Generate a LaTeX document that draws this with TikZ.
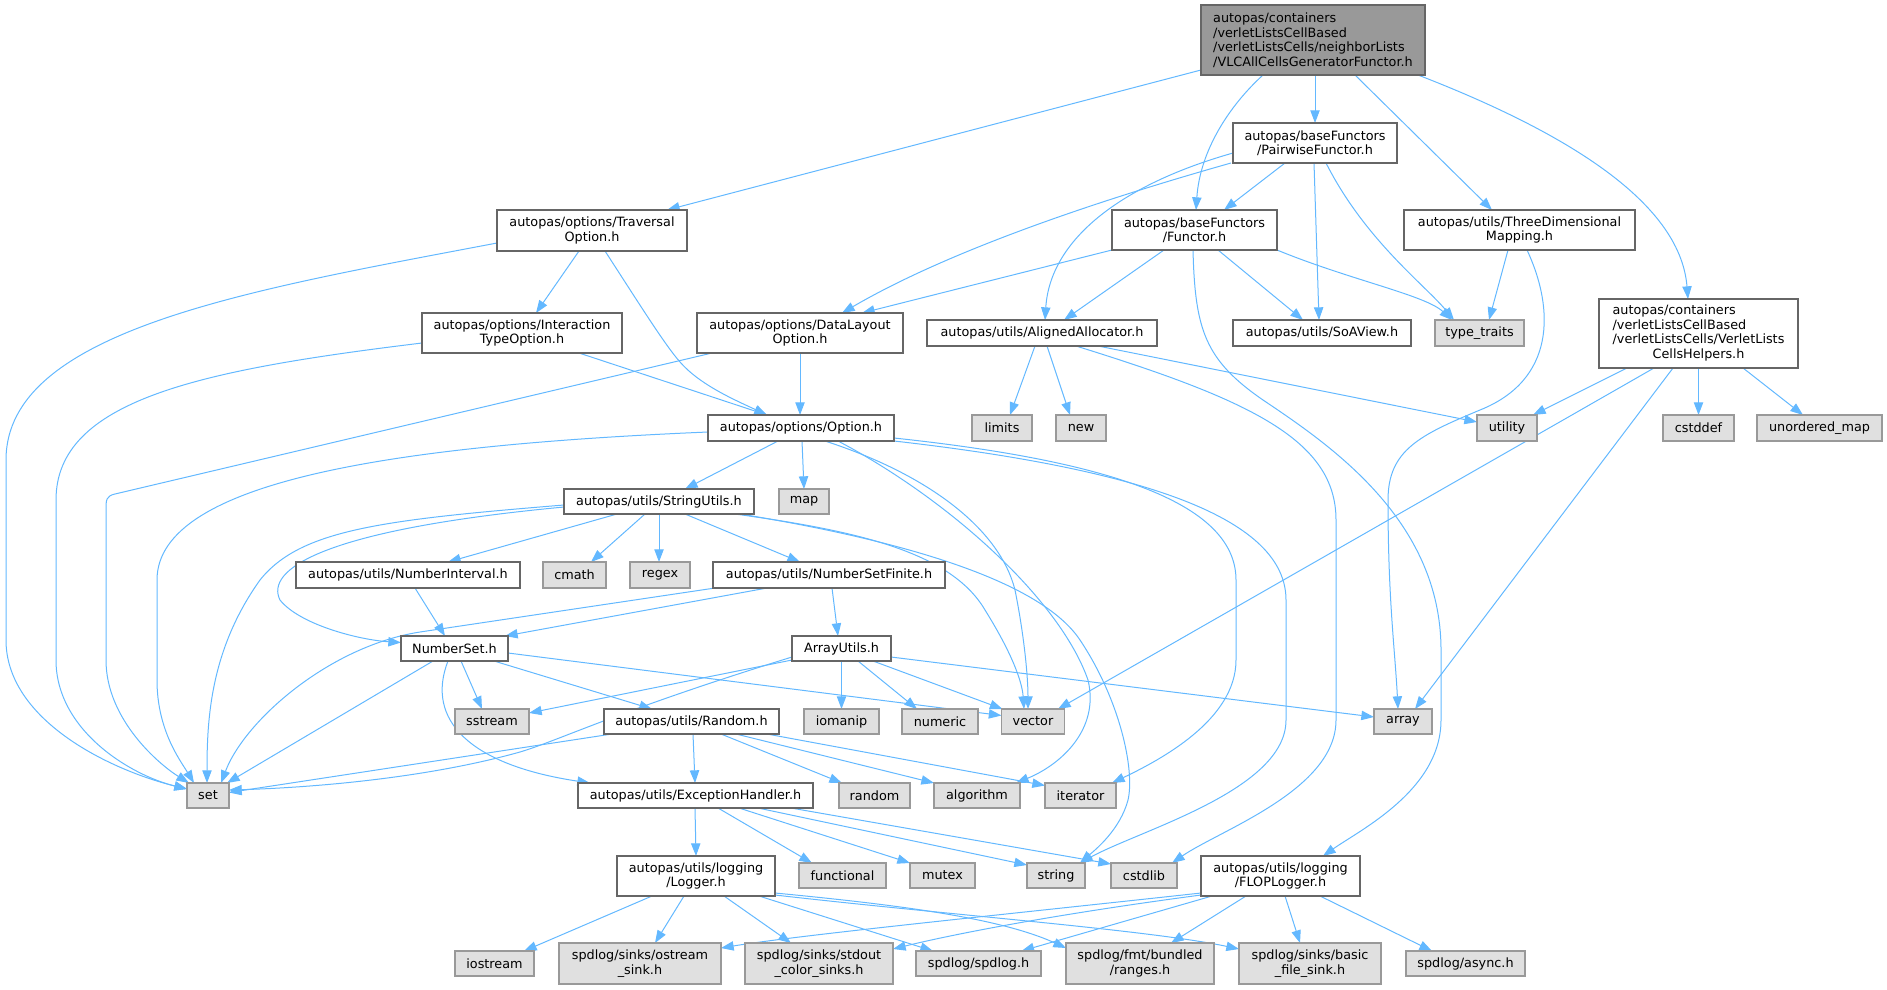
\documentclass[tikz,border=0pt]{standalone}
\usepackage{fontspec}
\setmainfont{DejaVu Sans}
\usetikzlibrary{arrows.meta,calc}
\definecolor{edgec}{HTML}{63B8FF}
\definecolor{bordw}{HTML}{666666}
\definecolor{bordg}{HTML}{999999}
\definecolor{fillg}{HTML}{E0E0E0}
\definecolor{fillr}{HTML}{999999}
\pgfdeclarelayer{bg}
\pgfsetlayers{bg,main}
\begin{document}
\begin{tikzpicture}[x=0.75pt,y=-0.75pt,
  nbase/.style={inner sep=0pt, outer sep=0pt, line width=0.9pt, font=\fontsize{9.6}{10.9}\selectfont, text=black},
  wbox/.style={nbase, draw=bordw, fill=white, align=center},
  gbox/.style={nbase, draw=bordg, fill=fillg, align=center},
  rbox/.style={nbase, draw=bordw, fill=fillr, align=left},
  sz/.style 2 args={minimum width=#1*0.75pt, minimum height=#2*0.75pt},
  dep/.style={draw=edgec, line width=0.75pt, -{Triangle[length=9.5pt,width=7pt]}}]
\useasboundingbox (0,0) rectangle (1887,989);

% nodes
\node[rbox, sz={224}{70}] (root) at (1313,40) {autopas/containers\\/verletListsCellBased\\/verletListsCells/neighborLists\\/VLCAllCellsGeneratorFunctor.h};
\node[wbox, sz={164}{40}] (pair) at (1315,143) {autopas/baseFunctors\\/PairwiseFunctor.h};
\node[wbox, sz={190}{41}] (trav) at (592,230.5) {autopas/options/Traversal\\Option.h};
\node[wbox, sz={165}{40}] (func) at (1194.5,230) {autopas/baseFunctors\\/Functor.h};
\node[wbox, sz={231}{40}] (three) at (1519.5,230) {autopas/utils/ThreeDimensional\\Mapping.h};
\node[wbox, sz={200}{40}] (inter) at (522,333) {autopas/options/Interaction\\TypeOption.h};
\node[wbox, sz={206}{40}] (datal) at (800,333) {autopas/options/DataLayout\\Option.h};
\node[wbox, sz={230}{26}] (align) at (1042,333) {autopas/utils/AlignedAllocator.h};
\node[wbox, sz={178}{26}] (soa) at (1322,333) {autopas/utils/SoAView.h};
\node[gbox, sz={89}{26}] (tt) at (1479.5,333) {type\_traits};
\node[wbox, sz={199}{69}] (helpers) at (1698.5,333.5) {\begin{tabular}{@{}l@{}}autopas/containers\\/verletListsCellBased\\/verletListsCells/VerletLists\\\multicolumn{1}{@{}c@{}}{CellsHelpers.h}\end{tabular}};
\node[gbox, sz={60}{26}] (limits) at (1002,428) {limits};
\node[gbox, sz={50}{26}] (new) at (1081,428) {new};
\node[gbox, sz={60}{26}] (utility) at (1507,428) {utility};
\node[gbox, sz={71}{26}] (cstddef) at (1698.5,428) {cstddef};
\node[gbox, sz={125}{26}] (umap) at (1819.5,428) {unordered\_map};
\node[wbox, sz={186}{26}] (option) at (801,428) {autopas/options/Option.h};
\node[wbox, sz={190}{25}] (strutil) at (659,501.5) {autopas/utils/StringUtils.h};
\node[gbox, sz={50}{25}] (map) at (804,501.5) {map};
\node[wbox, sz={224}{26}] (numint) at (408,575) {autopas/utils/NumberInterval.h};
\node[gbox, sz={63}{26}] (cmath) at (574.5,575) {cmath};
\node[gbox, sz={60}{26}] (regex) at (660,575) {regex};
\node[wbox, sz={232}{26}] (numfin) at (829,575) {autopas/utils/NumberSetFinite.h};
\node[wbox, sz={107}{25}] (numset) at (454.5,648.5) {NumberSet.h};
\node[wbox, sz={99}{25}] (arrutil) at (841.5,648.5) {ArrayUtils.h};
\node[gbox, sz={74}{25}] (sstream) at (492,721.5) {sstream};
\node[wbox, sz={175}{25}] (rnd) at (691.5,721.5) {autopas/utils/Random.h};
\node[gbox, sz={75}{25}] (iomanip) at (841.5,721.5) {iomanip};
\node[gbox, sz={76}{25}] (numeric) at (940,721.5) {numeric};
\node[gbox, sz={63}{25}] (vector) at (1033,721.5) {vector};
\node[gbox, sz={58}{25}] (array) at (1403,721.5) {array};
\node[gbox, sz={42}{25}] (set) at (208,795.5) {set};
\node[wbox, sz={235}{25}] (exc) at (695.5,795.5) {autopas/utils/ExceptionHandler.h};
\node[gbox, sz={71}{25}] (randstd) at (874.5,795.5) {random};
\node[gbox, sz={86}{25}] (algo) at (977,795.5) {algorithm};
\node[gbox, sz={71}{25}] (iter) at (1080.5,795.5) {iterator};
\node[wbox, sz={158}{40}] (logger) at (696,876) {autopas/utils/logging\\/Logger.h};
\node[gbox, sz={87}{25}] (functional) at (842.5,875.5) {functional};
\node[gbox, sz={65}{25}] (mutex) at (942.5,875.5) {mutex};
\node[gbox, sz={58}{25}] (string) at (1056,875.5) {string};
\node[gbox, sz={66}{25}] (cstdlib) at (1144,875.5) {cstdlib};
\node[wbox, sz={159}{40}] (flop) at (1280.5,876) {autopas/utils/logging\\/FLOPLogger.h};
\node[gbox, sz={79}{25}] (iostream) at (494.5,963.5) {iostream};
\node[gbox, sz={162}{41}] (ostream) at (640,963.5) {spdlog/sinks/ostream\\\_sink.h};
\node[gbox, sz={148}{41}] (stdout) at (819,963.5) {spdlog/sinks/stdout\\\_color\_sinks.h};
\node[gbox, sz={125}{25}] (spdlog) at (978.5,963.5) {spdlog/spdlog.h};
\node[gbox, sz={148}{41}] (ranges) at (1140,963.5) {spdlog/fmt/bundled\\/ranges.h};
\node[gbox, sz={142}{41}] (basic) at (1310,963.5) {spdlog/sinks/basic\\\_file\_sink.h};
\node[gbox, sz={119}{25}] (async) at (1465.5,963.5) {spdlog/async.h};

\begin{pgfonlayer}{bg}
% root
\draw[dep] ($(root.south west)+(0,-5)$) -- ($(trav.north)+(75,0)$);
\draw[dep] ($(root.south)+(-50,0)$) .. controls (1230,105) and (1200,150) .. ($(func.north)+(1.5,0)$);
\draw[dep] ($(root.south)+(2,0)$) -- (pair.north);
\draw[dep] ($(root.south)+(42,0)$) -- ($(three.north)+(-27.5,0)$);
\draw[dep] ($(root.south east)+(-7,0)$) .. controls (1560,130) and (1680,200) .. ($(helpers.north)+(-10.5,0)$);
% pairwise
\draw[dep] ($(pair.south)+(-30,0)$) -- ($(func.north)+(29.5,0)$);
\draw[dep] ($(pair.south west)+(-2,0)$) .. controls (1100,200) and (950,250) .. ($(datal.north)+(42,0)$);
\draw[dep] ($(pair.west)+(0,10)$) .. controls (1120,185) and (1050,240) .. ($(align.north)+(3,0)$);
\draw[dep] ($(pair.south)+(-1,0)$) -- ($(soa.north)+(-3,0)$);
\draw[dep] ($(pair.south)+(11,0)$) .. controls (1365,240) and (1425,285) .. ($(tt.north)+(-25.5,0)$);
% functor
\draw[dep] (func.south west) -- ($(datal.north)+(62,0)$);
\draw[dep] ($(func.south)+(-30.5,0)$) -- ($(align.north)+(22,0)$);
\draw[dep] ($(func.south)+(23.5,0)$) -- ($(soa.north)+(-19,0)$);
\draw[dep] (func.south east) .. controls (1350,280) and (1425,295) .. ($(tt.north)+(-27.5,0)$);
\draw[dep] ($(func.south)+(-1.5,0)$) .. controls (1195,330) and (1205,360) .. (1263,400) .. controls (1330,445) and (1441,520) .. (1441,650) -- (1441,720) .. controls (1441,790) and (1360,830) .. ($(flop.north)+(42.5,0)$);
% three dimensional
\draw[dep] ($(three.south)+(-11.5,0)$) -- ($(tt.north)+(9.5,0)$);
\draw[dep] ($(three.south)+(7.5,0)$) .. controls (1555,310) and (1555,380) .. (1480,410) .. controls (1420,435) and (1388,450) .. (1388,500) .. controls (1388,600) and (1395,650) .. ($(array.north)+(-5,0)$);
% helpers
\draw[dep] ($(helpers.south)+(-71.5,0)$) -- ($(utility.north)+(26,0)$);
\draw[dep] (helpers.south) -- (cstddef.north);
\draw[dep] ($(helpers.south)+(44.5,0)$) -- ($(umap.north)+(-16.5,0)$);
\draw[dep] ($(helpers.south)+(-44.5,0)$) -- ($(vector.north)+(25,0)$);
\draw[dep] ($(helpers.south)+(-25.5,0)$) -- ($(array.north)+(12,0)$);
% aligned allocator
\draw[dep] ($(align.south)+(-7,0)$) -- ($(limits.north)+(8,0)$);
\draw[dep] ($(align.south)+(5,0)$) -- ($(new.north)+(-11,0)$);
\draw[dep] ($(align.south)+(56,0)$) -- ($(utility.west)+(0,-6)$);
\draw[dep] ($(align.south)+(34,0)$) .. controls (1250,400) and (1336,440) .. (1336,520) -- (1336,720) .. controls (1336,790) and (1220,830) .. ($(cstdlib.north)+(28,0)$);
% traversal option
\draw[dep] ($(trav.west)+(0,12.5)$) .. controls (250,290) and (6,330) .. (6,460) -- (6,640) .. controls (6,720) and (110,770) .. ($(set.west)+(0,-6.5)$);
\draw[dep] ($(trav.south)+(-13,0)$) -- ($(inter.north)+(14,0)$);
\draw[dep] ($(trav.south)+(13,0)$) .. controls (640,305) and (665,345) .. (680,362) .. controls (700,385) and (735,400) .. ($(option.north)+(-34,0)$);
% interaction type option
\draw[dep] ($(inter.west)+(0,10)$) .. controls (200,370) and (56,400) .. (56,500) -- (56,660) .. controls (56,730) and (130,775) .. ($(set.west)+(0,-6.5)$);
\draw[dep] ($(inter.south)+(57,0)$) -- ($(option.north)+(-34,0)$);
% data layout option
\draw[dep] ($(datal.south west)+(15,0)$) -- (115,494) .. controls (106,496) and (106,500) .. (106,510) -- (106,660) .. controls (106,720) and (160,765) .. ($(set.north west)+(2,0)$);
\draw[dep] (datal.south) -- ($(option.north)+(-1,0)$);
% option
\draw[dep] ($(option.west)+(0,4)$) .. controls (400,445) and (157,480) .. (157,580) -- (157,680) .. controls (157,730) and (180,760) .. ($(set.north)+(-14,0)$);
\draw[dep] ($(option.south)+(-23,0)$) -- ($(strutil.north)+(26,0)$);
\draw[dep] ($(option.south)+(1,0)$) -- (map.north);
\draw[dep] ($(option.south)+(24,0)$) .. controls (930,475) and (1000,530) .. (1015,590) .. controls (1025,640) and (1028,680) .. ($(vector.north)+(-5,0)$);
\draw[dep] ($(option.south)+(37,0)$) .. controls (950,500) and (1060,600) .. (1088,680) .. controls (1100,730) and (1060,765) .. ($(algo.north)+(39,0)$);
\draw[dep] ($(option.east)+(0,10)$) .. controls (1100,460) and (1236,500) .. (1236,580) -- (1236,660) .. controls (1236,720) and (1160,760) .. ($(iter.north)+(31.5,0)$);
\draw[dep] (option.south east) .. controls (1150,470) and (1286,520) .. (1286,600) -- (1286,720) .. controls (1286,790) and (1140,830) .. ($(string.north)+(24,0)$);
% string utils
\draw[dep] ($(strutil.west)+(0,3.5)$) .. controls (380,520) and (300,530) .. (260,580) .. controls (210,650) and (207,720) .. ($(set.north)+(-1,0)$);
\draw[dep] ($(strutil.west)+(0,5.5)$) .. controls (320,530) and (265,570) .. (280,600) .. controls (300,625) and (360,640) .. ($(numset.west)+(0,-6)$);
\draw[dep] ($(strutil.south)+(-42,0)$) -- ($(numint.north)+(40,0)$);
\draw[dep] ($(strutil.south)+(-14,0)$) -- ($(cmath.north)+(16.5,0)$);
\draw[dep] (strutil.south) -- ($(regex.north)+(-1,0)$);
\draw[dep] ($(strutil.south)+(26,0)$) -- ($(numfin.north)+(-29,0)$);
\draw[dep] ($(strutil.south east)+(-19,0)$) .. controls (850,530) and (950,550) .. (985,610) .. controls (1010,650) and (1022,680) .. ($(vector.north)+(-9,0)$);
\draw[dep] ($(strutil.south east)+(-14,0)$) .. controls (900,540) and (1040,580) .. (1080,640) .. controls (1120,700) and (1135,770) .. (1128,800) .. controls (1120,830) and (1095,850) .. ($(string.north)+(24,0)$);
% number interval
\draw[dep] ($(numint.south)+(7,0)$) -- ($(numset.north)+(-9.5,0)$);
% number set finite
\draw[dep] ($(numfin.south)+(-62,0)$) -- ($(numset.north east)+(-3,0)$);
\draw[dep] ($(numfin.south west)+(2,0)$) -- (420,632) .. controls (330,646) and (245,720) .. ($(set.north)+(13,0)$);
\draw[dep] ($(numfin.south)+(3,0)$) -- ($(arrutil.north)+(-3.5,0)$);
% number set
\draw[dep] ($(numset.east)+(0,4.5)$) -- ($(vector.west)+(0,-6)$);
\draw[dep] ($(numset.south)+(6.5,0)$) -- ($(sstream.north)+(-10,0)$);
\draw[dep] ($(numset.south)+(39.5,0)$) -- ($(rnd.north)+(-39.5,0)$);
\draw[dep] ($(numset.south)+(-21.5,0)$) -- ($(set.north east)+(-2,0)$);
\draw[dep] ($(numset.south)+(-6.5,0)$) .. controls (425,720) and (470,765) .. ($(exc.north west)+(12,0)$);
% array utils
\draw[dep] ($(arrutil.south west)+(0,-1)$) -- ($(sstream.east)+(0,-8.5)$);
\draw[dep] ($(arrutil.west)+(0,8.5)$) .. controls (620,710) and (560,740) .. (520,752) .. controls (420,780) and (300,788) .. ($(set.east)+(0,-5.5)$);
\draw[dep] (arrutil.south) -- (iomanip.north);
\draw[dep] ($(arrutil.south)+(16.5,0)$) -- ($(numeric.north)+(-23,0)$);
\draw[dep] ($(arrutil.south)+(31.5,0)$) -- ($(vector.north west)+(1,0)$);
\draw[dep] ($(arrutil.east)+(0,8.5)$) -- ($(array.west)+(0,-4.5)$);
% random
\draw[dep] ($(rnd.south west)+(8,0)$) -- ($(set.east)+(0,-3)$);
\draw[dep] ($(rnd.south)+(1.5,0)$) -- ($(exc.north)+(-0.5,0)$);
\draw[dep] ($(rnd.south)+(29.5,0)$) -- ($(randstd.north)+(-32.5,0)$);
\draw[dep] ($(rnd.south)+(44.5,0)$) -- (algo.north west);
\draw[dep] ($(rnd.south east)+(-12,0)$) -- ($(iter.west)+(0,-10)$);
% exception handler
\draw[dep] ($(exc.south)+(-0.5,0)$) -- (logger.north);
\draw[dep] ($(exc.south)+(22.5,0)$) -- ($(functional.north)+(-30.5,0)$);
\draw[dep] ($(exc.south)+(43.5,0)$) -- (mutex.north west);
\draw[dep] ($(exc.south)+(62.5,0)$) -- ($(string.north west)+(0,2)$);
\draw[dep] ($(exc.south east)+(-22,0)$) -- ($(cstdlib.north west)+(0,1)$);
% logger
\draw[dep] ($(logger.south)+(-44,0)$) -- ($(iostream.north)+(29.5,0)$);
\draw[dep] ($(logger.south)+(-12,0)$) -- ($(ostream.north)+(15,0)$);
\draw[dep] ($(logger.south)+(28,0)$) -- ($(stdout.north)+(-28,0)$);
\draw[dep] ($(logger.south)+(63,0)$) -- ($(spdlog.north)+(-45.5,0)$);
\draw[dep] ($(logger.east)+(0,17)$) .. controls (900,905) and (1000,918) .. ($(ranges.north west)+(0,5)$);
\draw[dep] ($(logger.east)+(0,19)$) .. controls (950,915) and (1150,930) .. ($(basic.north west)+(0,6)$);
% flop logger
\draw[dep] ($(flop.west)+(0,17)$) .. controls (1000,915) and (800,935) .. ($(ostream.north east)+(0,5)$);
\draw[dep] ($(flop.west)+(0,19)$) .. controls (1050,915) and (950,935) .. ($(stdout.north east)+(0,6)$);
\draw[dep] ($(flop.south west)+(11,0)$) -- ($(spdlog.north)+(43,0)$);
\draw[dep] ($(flop.south)+(-34.5,0)$) -- ($(ranges.north)+(31,0)$);
\draw[dep] ($(flop.south)+(4.5,0)$) -- ($(basic.north)+(-10,0)$);
\draw[dep] ($(flop.south)+(39.5,0)$) -- ($(async.north)+(-33.5,0)$);
\end{pgfonlayer}
\end{tikzpicture}
\end{document}
